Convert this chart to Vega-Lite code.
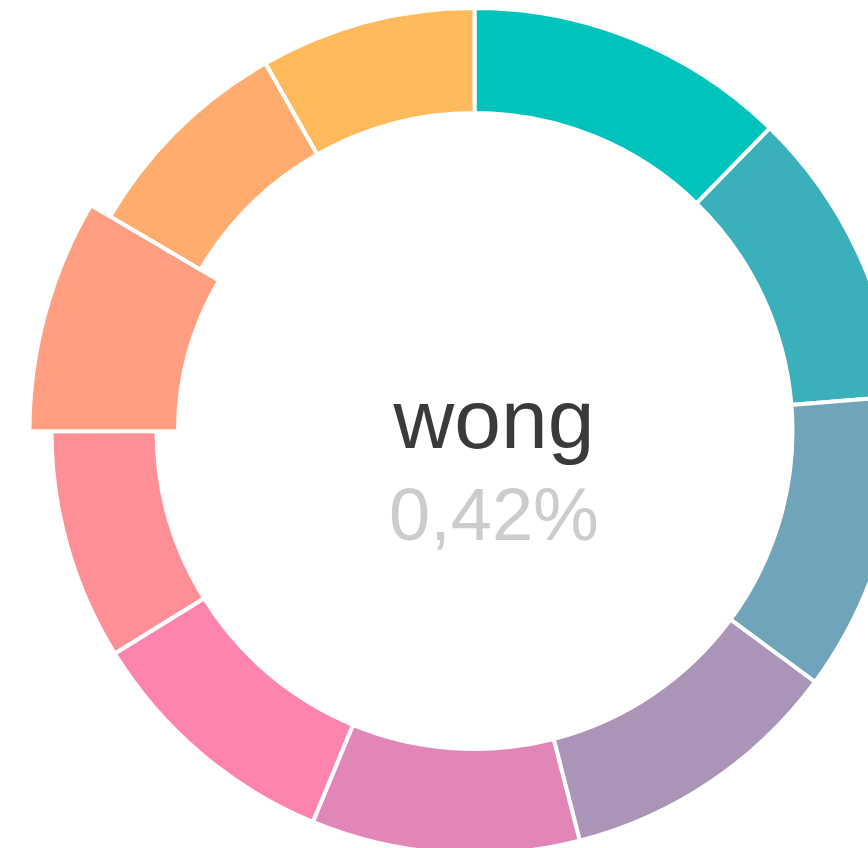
{
  "$schema": "https://vega.github.io/schema/vega-lite/v6.json",
  "width": 868,
  "height": 848,
  "autosize": {"type": "none"},
  "padding": {"left": 40.5, "top": 7, "right": 0, "bottom": 0},
  "background": "white",
  "config": {
    "view": {"stroke": null},
    "locale": {"number": {"decimal": ",", "thousands": ".", "grouping": [3], "currency": ["", " €"]}}
  },
  "data": {
    "values": [
      {"rank": 1, "name": "chan", "share": 0.0061},
      {"rank": 2, "name": "lee", "share": 0.00565},
      {"rank": 3, "name": "cheung", "share": 0.00566},
      {"rank": 4, "name": "lau", "share": 0.0054},
      {"rank": 5, "name": "leung", "share": 0.00508},
      {"rank": 6, "name": "ho", "share": 0.00493},
      {"rank": 7, "name": "ng", "share": 0.00437},
      {"rank": 8, "name": "wong", "share": 0.0042},
      {"rank": 9, "name": "tang", "share": 0.00412},
      {"rank": 10, "name": "lam", "share": 0.00408}
    ]
  },
  "layer": [
    {
      "mark": {"type": "arc", "radius": 423, "radius2": 318, "stroke": "white", "strokeWidth": 4},
      "encoding": {
        "theta": {"field": "share", "type": "quantitative", "stack": true},
        "order": {"field": "rank", "type": "quantitative"},
        "color": {
          "field": "name", "type": "nominal", "legend": null,
          "scale": {
            "domain": ["chan", "lee", "cheung", "lau", "leung", "ho", "ng", "wong", "tang", "lam"],
            "range": ["#00C4BC", "#3AB0BA", "#6FA4BA", "#AA94B8", "#E286B8", "#FF84AD", "#FF8F96", "#FF9E80", "#FFAC6E", "#FFBA5C"]
          }
        },
        "opacity": {"condition": {"test": "datum.name === 'wong'", "value": 0}, "value": 1}
      }
    },
    {
      "mark": {"type": "arc", "radius": 445, "radius2": 296.5, "stroke": "white", "strokeWidth": 4},
      "encoding": {
        "theta": {"field": "share", "type": "quantitative", "stack": true},
        "order": {"field": "rank", "type": "quantitative"},
        "color": {"field": "name", "type": "nominal", "legend": null},
        "opacity": {"condition": {"test": "datum.name === 'wong'", "value": 1}, "value": 0}
      }
    },
    {
      "transform": [{"filter": "datum.name === 'wong'"}],
      "mark": {"type": "text", "align": "center", "baseline": "alphabetic", "dx": 19.5, "dy": 17, "font": "Liberation Sans", "fontSize": 84, "color": "#3A3A3A"},
      "encoding": {"text": {"field": "name", "type": "nominal"}}
    },
    {
      "transform": [{"filter": "datum.name === 'wong'"}],
      "mark": {"type": "text", "align": "center", "baseline": "alphabetic", "dx": 19.5, "dy": 109, "font": "Liberation Sans", "fontSize": 74, "color": "#CCCCCC"},
      "encoding": {"text": {"field": "share", "type": "quantitative", "format": ".2%"}}
    }
  ]
}
